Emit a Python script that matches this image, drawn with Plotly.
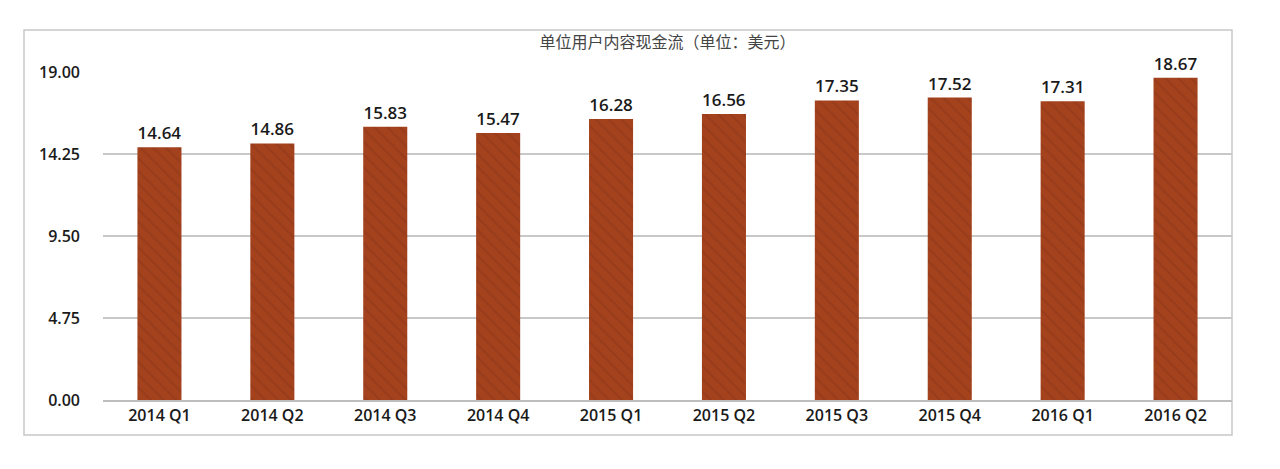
import plotly.graph_objects as go

categories = ["2014 Q1", "2014 Q2", "2014 Q3", "2014 Q4", "2015 Q1",
              "2015 Q2", "2015 Q3", "2015 Q4", "2016 Q1", "2016 Q2"]
values = [14.64, 14.86, 15.83, 15.47, 16.28, 16.56, 17.35, 17.52, 17.31, 18.67]
tick_vals = [0, 4.75, 9.5, 14.25, 19.0]
title_text = "单位用户内容现金流（单位：美元）"

W, H = 1272, 461
L, T, R, B = 95, 64, 48, 69
PW = W - L - R
PH = H - T - B

fig = go.Figure()
fig.add_trace(go.Bar(
    x=categories, y=values,
    marker=dict(color="#A3421C", line=dict(width=0),
                pattern=dict(shape="\\", fgcolor="#85301A", fgopacity=0.35, size=9, solidity=0.25)),
    text=[f"{v:.2f}" for v in values],
    textposition="outside",
    textfont=dict(family="Open Sans, DejaVu Sans, sans-serif", size=17, color="#1a1a1a", weight=600),
    cliponaxis=False,
))

fig.update_layout(
    width=W, height=H,
    margin=dict(l=L, r=R, t=T, b=B),
    paper_bgcolor="white", plot_bgcolor="white",
    bargap=0.61,
    showlegend=False,
    font=dict(family="Open Sans, DejaVu Sans, Noto Sans CJK SC, sans-serif", color="#1a1a1a"),
    title=dict(text=title_text, x=0.5, xref="paper", xanchor="center",
               y=1 - 34 / H, yanchor="middle",
               font=dict(family="Noto Sans CJK SC, sans-serif", size=16, color="#444")),
    xaxis=dict(showgrid=False, showline=True, linecolor="#BDBDBD", linewidth=1.5,
               ticks="", tickfont=dict(size=16, color="#1a1a1a", weight=600)),
    yaxis=dict(range=[0, 19], tickvals=tick_vals, tickformat=".2f",
               showgrid=True, gridcolor="#C8C8C8", gridwidth=1.5,
               zeroline=False, showline=False, ticks="",
               ticklabelstandoff=22,
               tickfont=dict(size=16, color="#1a1a1a", weight=600)),
)

# outer chart border (page coords: left 24, right 1232, top 30, bottom 435; page offset 8px)
fig.add_shape(type="rect", xref="paper", yref="paper",
              x0=(24 - 8 - L) / PW, x1=(1232 - 8 - L) / PW,
              y0=(T + PH - (435 - 8)) / PH, y1=(T + PH - (30 - 8)) / PH,
              line=dict(color="#C8C8C8", width=1.5), fillcolor="rgba(0,0,0,0)", layer="below")

fig.write_html("out.html")
